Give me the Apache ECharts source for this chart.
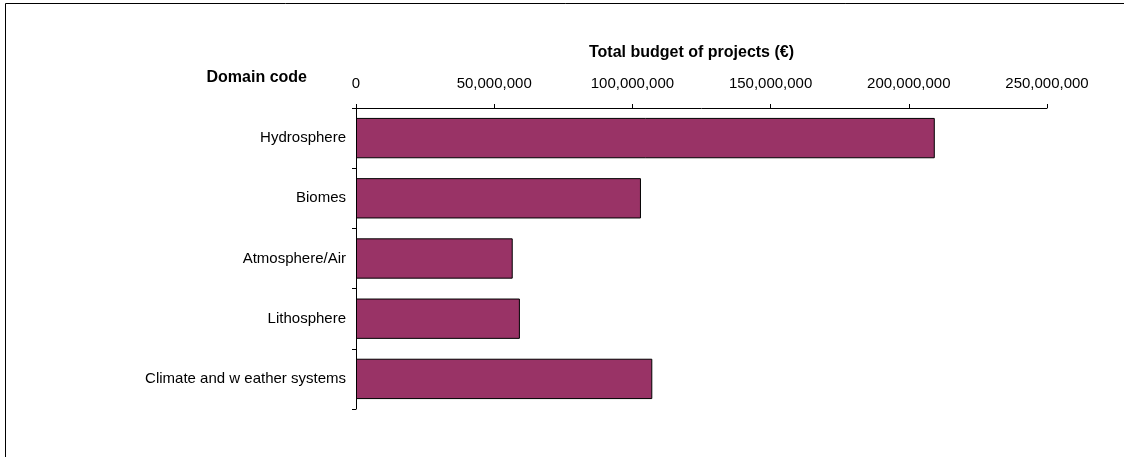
<!DOCTYPE html>
<html>
<head>
<meta charset="utf-8">
<script src="https://cdn.jsdelivr.net/npm/echarts@6/dist/echarts.min.js"></script>
<style>
  html, body { margin: 0; padding: 0; background: #ffffff; }
  #chart { width: 1124px; height: 457px; }
</style>
</head>
<body>
<div id="chart"></div>
<script>
// Domains in display order (top to bottom)
const domains = ['Hydrosphere', 'Biomes', 'Atmosphere/Air', 'Lithosphere', 'Climate and w eather systems'];
// Total budget per domain, in euro
const budgets = [209400000, 103100000, 56700000, 59300000, 107200000];
// Budget axis ticks
const budgetTicks = [0, 50000000, 100000000, 150000000, 200000000, 250000000];

const fmt = v => Number(v).toLocaleString('en-US');

const chart = echarts.init(document.getElementById('chart'), null, { renderer: 'canvas' });

const font = '"Liberation Sans", Arial, sans-serif';

chart.setOption({
  animation: false,
  backgroundColor: '#ffffff',
  textStyle: { fontFamily: font },
  title: {
    text: 'Domain code',
    right: 1124 - 312,
    top: 65,
    textStyle: { fontFamily: font, fontSize: 16, fontWeight: 'bold', color: '#000' }
  },
  graphic: [{
    type: 'rect',
    shape: { x: 5.5, y: 3.5, width: 1200, height: 600 },
    style: { fill: null, stroke: '#000', lineWidth: 1 },
    silent: true
  }],
  grid: { left: 356, top: 108, width: 691, height: 301, containLabel: false },
  xAxis: {
    type: 'value',
    position: 'top',
    min: budgetTicks[0],
    max: budgetTicks[budgetTicks.length - 1],
    interval: budgetTicks[1] - budgetTicks[0],
    name: 'Total budget of projects (€)',
    nameLocation: 'middle',
    nameGap: 47,
    nameTextStyle: { fontFamily: font, fontSize: 16, fontWeight: 'bold', color: '#000', padding: [0, 20, 0, 0] },
    axisLine: { show: true, lineStyle: { color: '#000', width: 1 } },
    axisTick: { show: true, length: 4, lineStyle: { color: '#000' } },
    axisLabel: { margin: 17, fontSize: 15, color: '#000', fontFamily: font, formatter: fmt },
    splitLine: { show: false }
  },
  yAxis: {
    type: 'category',
    inverse: true,
    data: domains,
    axisLine: { show: true, lineStyle: { color: '#000', width: 1 } },
    axisTick: { show: true, length: 4, lineStyle: { color: '#000' } },
    axisLabel: { margin: 10, fontSize: 15, color: '#000', fontFamily: font },
    splitLine: { show: false }
  },
  series: [{
    type: 'bar',
    data: budgets,
    barCategoryGap: '33%',
    itemStyle: { color: '#993366', borderColor: '#000', borderWidth: 1 }
  }]
});
</script>
</body>
</html>
